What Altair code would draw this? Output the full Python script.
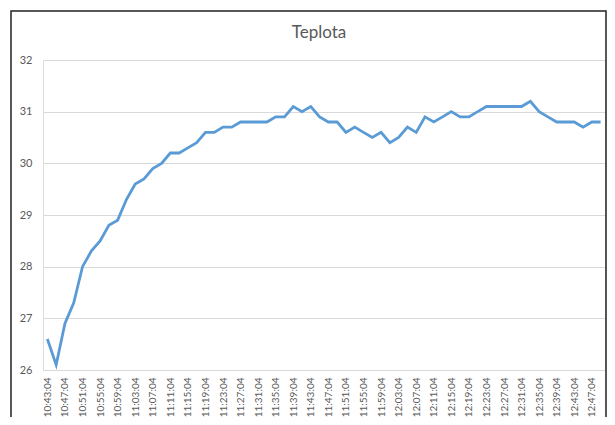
import altair as alt
import pandas as pd

times = [
    "10:43:04", "10:45:04", "10:47:04", "10:49:04", "10:51:04", "10:53:04", "10:55:04", "10:57:04",
    "10:59:04", "11:01:04", "11:03:04", "11:05:04", "11:07:04", "11:09:04", "11:11:04", "11:13:04",
    "11:15:04", "11:17:04", "11:19:04", "11:21:04", "11:23:04", "11:25:04", "11:27:04", "11:29:04",
    "11:31:04", "11:33:04", "11:35:04", "11:37:04", "11:39:04", "11:41:04", "11:43:04", "11:45:04",
    "11:47:04", "11:49:04", "11:51:04", "11:53:04", "11:55:04", "11:57:04", "11:59:04", "12:01:04",
    "12:03:04", "12:05:04", "12:07:04", "12:09:04", "12:11:04", "12:13:04", "12:15:04", "12:17:04",
    "12:19:04", "12:21:04", "12:23:04", "12:25:04", "12:27:04", "12:29:04", "12:31:04", "12:33:04",
    "12:35:04", "12:37:04", "12:39:04", "12:41:04", "12:43:04", "12:45:04", "12:47:04", "12:49:04",
]
teplota = [
    26.6, 26.1, 26.9, 27.3, 28.0, 28.3, 28.5, 28.8,
    28.9, 29.3, 29.6, 29.7, 29.9, 30.0, 30.2, 30.2,
    30.3, 30.4, 30.6, 30.6, 30.7, 30.7, 30.8, 30.8,
    30.8, 30.8, 30.9, 30.9, 31.1, 31.0, 31.1, 30.9,
    30.8, 30.8, 30.6, 30.7, 30.6, 30.5, 30.6, 30.4,
    30.5, 30.7, 30.6, 30.9, 30.8, 30.9, 31.0, 30.9,
    30.9, 31.0, 31.1, 31.1, 31.1, 31.1, 31.1, 31.2,
    31.0, 30.9, 30.8, 30.8, 30.8, 30.7, 30.8, 30.8,
]
y_ticks = [26, 27, 28, 29, 30, 31, 32]
x_labels = times[::2]
chart_title = "Teplota"

df = pd.DataFrame({"cas": times, "teplota": teplota})

W, H = 562, 310
FONT = "Lato"
GRAY = "#595959"

line = alt.Chart(df).mark_line(color="#5B9BD5", strokeWidth=2.8, strokeJoin="miter").encode(
    x=alt.X("cas:O", sort=times,
            scale=alt.Scale(type="point", padding=0.5),
            axis=alt.Axis(title=None, values=x_labels, labelAngle=-90, labelFontSize=10,
                          labelColor=GRAY, labelFont=FONT, ticks=False, domain=True,
                          domainColor="#d9d9d9", labelPadding=7, grid=False,
                          labelOverlap=False)),
    y=alt.Y("teplota:Q", scale=alt.Scale(domain=[26, 32], nice=False, zero=False),
            axis=alt.Axis(title=None, values=y_ticks, labelFontSize=11, labelColor=GRAY,
                          labelFont=FONT, ticks=False, domain=False, gridColor="#d9d9d9",
                          labelPadding=11)),
)

frame = alt.Chart(alt.Data(values=[{}])).mark_rect(
    fill=None, stroke="#222222", strokeWidth=1.5
).encode(
    x=alt.value(-32), x2=alt.value(W + 1), y=alt.value(-49), y2=alt.value(H + 200)
)

title = alt.Chart(alt.Data(values=[{"t": chart_title}])).mark_text(
    font=FONT, fontSize=17, color=GRAY, align="center", baseline="alphabetic"
).encode(
    text="t:N", x=alt.value(276), y=alt.value(-22)
)

chart = alt.layer(frame, line, title).properties(
    width=W, height=H,
    padding={"left": 35, "top": 52, "right": 2, "bottom": 47},
    autosize=alt.AutoSizeParams(type="none"),
).configure_view(stroke=None).configure(background="white")

chart.save("out.html", embed_options={"renderer": "svg", "actions": False})
